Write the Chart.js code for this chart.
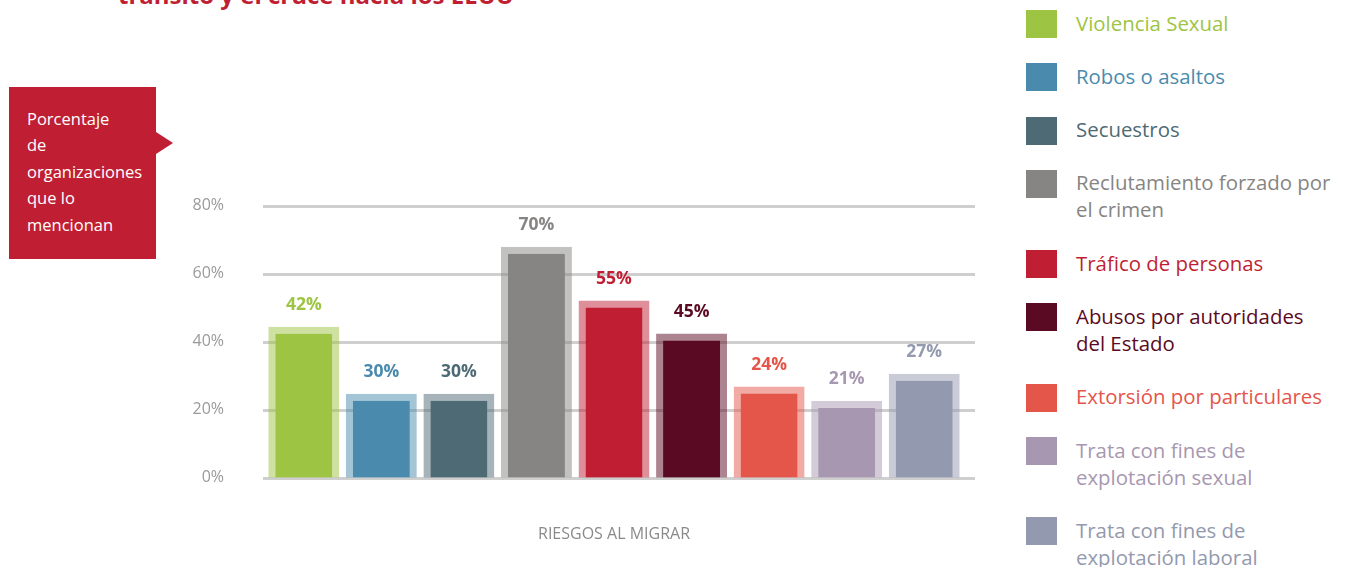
<!DOCTYPE html>
<html lang="es">
<head>
<meta charset="utf-8">
<script src="https://cdn.jsdelivr.net/npm/chart.js@4.4.1/dist/chart.umd.min.js"></script>
<style>
  body { margin: 0; width: 1345px; height: 567px; overflow: hidden; background: #fff; font-family: "Open Sans", Lato, sans-serif; position: relative; }
  #titulo { position: absolute; left: 118px; top: -17px; font-weight: 700; font-size: 24px; line-height: 24px; color: #c01f33; white-space: nowrap; }
  #nota { position: absolute; left: 9px; top: 87px; width: 147px; height: 172px; background: #c01f33; color: #fff; font-size: 16.5px; line-height: 26.5px; box-sizing: border-box; padding: 18.75px 0 0 18px; }
  #nota:after { content: ""; position: absolute; left: 147px; top: 45px; border-left: 17px solid #c01f33; border-top: 11px solid transparent; border-bottom: 11px solid transparent; }
  #grafico { position: absolute; left: 170px; top: 155px; }
  #leyenda { position: absolute; left: 1026px; top: 9.5px; }
  .item { display: flex; margin-bottom: 26.3px; }
  .cuadro { width: 21px; height: 18px; border: 5px solid; margin: 0.5px 0 -2px 0; flex: none; }
  .texto { margin-left: 19px; font-size: 20.4px; line-height: 27px; }
</style>
</head>
<body>
<div id="titulo">tránsito y el cruce hacia los EEUU</div>
<div id="nota">Porcentaje<br>de<br>organizaciones<br>que lo<br>mencionan</div>
<canvas id="grafico" width="810" height="398"></canvas>
<div id="leyenda"></div>

<script>
// categorías (cada una en sus líneas de leyenda)
const categorias = [
  ["Violencia Sexual"],
  ["Robos o asaltos"],
  ["Secuestros"],
  ["Reclutamiento forzado por", "el crimen"],
  ["Tráfico de personas"],
  ["Abusos por autoridades", "del Estado"],
  ["Extorsión por particulares"],
  ["Trata con fines de", "explotación sexual"],
  ["Trata con fines de", "explotación laboral"]
];
// porcentaje impreso sobre cada barra
const porcentajes = [42, 30, 30, 70, 55, 45, 24, 21, 27];
// altura con la que está dibujada cada barra en el original
const alturas = [44.4, 24.7, 24.7, 67.9, 52.1, 42.4, 26.8, 22.6, 30.6];
const ticksY = [0, 20, 40, 60, 80];
const tituloEje = "RIESGOS AL MIGRAR";

const colores = ["#9dc443", "#4a8bad", "#4d6a75", "#868583", "#c01f33", "#5a0a22", "#e4554a", "#a797b0", "#9399ae"];
const bordes = [
  "rgba(157,196,67,0.5)", "rgba(74,139,173,0.5)", "rgba(77,106,117,0.5)",
  "rgba(134,133,131,0.5)", "rgba(192,31,51,0.5)", "rgba(90,10,34,0.5)",
  "rgba(228,85,74,0.5)", "rgba(167,151,176,0.5)", "rgba(147,153,174,0.5)"
];

const fuente = "'Open Sans', Lato, sans-serif";

// leyenda en html
const leyenda = document.getElementById("leyenda");
categorias.forEach((lineas, i) => {
  const item = document.createElement("div");
  item.className = "item";
  const cuadro = document.createElement("div");
  cuadro.className = "cuadro";
  cuadro.style.background = colores[i];
  cuadro.style.borderColor = bordes[i];
  const texto = document.createElement("div");
  texto.className = "texto";
  texto.style.color = colores[i];
  texto.innerHTML = lineas.join("<br>");
  item.appendChild(cuadro);
  item.appendChild(texto);
  leyenda.appendChild(item);
});

// líneas guía que se alargan un poco a la derecha
const lineasGuia = {
  id: "lineasGuia",
  beforeDatasetsDraw(chart) {
    const { ctx, chartArea, scales } = chart;
    ctx.save();
    ctx.strokeStyle = "#cfcfcf";
    ctx.lineWidth = 3;
    ticksY.forEach((v) => {
      const py = Math.round(scales.y.getPixelForValue(v)) + 0.5;
      ctx.beginPath();
      ctx.moveTo(chartArea.left - 2, py);
      ctx.lineTo(chartArea.right + 12, py);
      ctx.stroke();
    });
    ctx.restore();
  }
};

// etiquetas de porcentaje sobre las barras
const etiquetas = {
  id: "etiquetas",
  afterDatasetsDraw(chart) {
    const { ctx } = chart;
    const barras = chart.getDatasetMeta(0).data;
    ctx.save();
    ctx.font = "700 17.5px " + fuente;
    ctx.textAlign = "center";
    ctx.textBaseline = "middle";
    barras.forEach((barra, i) => {
      ctx.fillStyle = colores[i];
      ctx.fillText(porcentajes[i] + "%", barra.x, barra.y - 22);
    });
    ctx.restore();
  }
};

new Chart(document.getElementById("grafico"), {
  type: "bar",
  data: {
    labels: categorias,
    datasets: [
      {
        data: alturas,
        backgroundColor: colores,
        borderColor: bordes,
        borderWidth: 7,
        borderSkipped: "bottom",
        barPercentage: 0.915,
        categoryPercentage: 1
      }
    ]
  },
  options: {
    responsive: false,
    animation: false,
    devicePixelRatio: 1,
    layout: { padding: { top: 15, right: 17, left: 0, bottom: 0 } },
    plugins: { legend: { display: false }, tooltip: { enabled: false } },
    scales: {
      x: {
        grid: { display: false, drawTicks: false },
        border: { display: false },
        ticks: { display: false },
        title: {
          display: true,
          text: tituloEje,
          color: "#8a8a8a",
          font: { family: fuente, size: 16 },
          padding: { top: 47, bottom: 9 }
        }
      },
      y: {
        min: 0,
        max: 80,
        afterBuildTicks: (scale) => { scale.ticks = ticksY.map((v) => ({ value: v })); },
        afterFit: (scale) => { scale.width = 95; },
        grid: { display: false, drawTicks: false },
        border: { display: false },
        ticks: {
          padding: 41,
          color: "#9a9a9a",
          font: { family: fuente, size: 16 },
          callback: (v) => v + "%"
        }
      }
    }
  },
  plugins: [lineasGuia, etiquetas]
});
</script>
</body>
</html>
